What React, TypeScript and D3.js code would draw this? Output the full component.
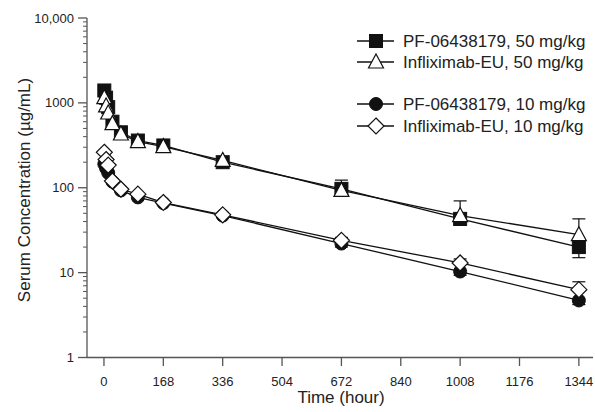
import React, { useEffect, useRef } from 'react';
import * as d3 from 'd3';

// sampling times (hours)
const times = [1, 6, 12, 24, 48, 96, 168, 336, 672, 1008, 1344];

const pf50 = [1400, 1150, 890, 600, 450, 360, 315, 200, 97, 43, 20];
const pf50Sd = [0, 0, 0, 0, 0, 0, 0, 15, 17, 7, 5];
const inf50 = [1150, 920, 760, 570, 430, 350, 305, 210, 93, 47, 28];
const inf50Sd = [0, 0, 0, 0, 0, 0, 0, 12, 30, 23, 15];
const pf10 = [190, 170, 150, 118, 93, 77, 66, 47, 22, 10.3, 4.7];
const pf10Sd = [0, 0, 0, 0, 0, 0, 0, 2, 2, 1, 0.5];
const inf10 = [262, 215, 185, 120, 96, 84, 67, 48, 24, 13, 6.3];
const inf10Sd = [0, 0, 0, 0, 0, 0, 0, 2, 2, 1.5, 1.5];

const xTicks = [0, 168, 336, 504, 672, 840, 1008, 1176, 1344];
const yTicks = [1, 10, 100, 1000, 10000];
const yTickLabels = ['1', '10', '100', '1000', '10,000'];

const legendLabels = [
  'PF-06438179, 50 mg/kg',
  'Infliximab-EU, 50 mg/kg',
  'PF-06438179, 10 mg/kg',
  'Infliximab-EU, 10 mg/kg',
];

const W = 595, H = 412;
const FONT = 'Liberation Sans, Arial, sans-serif';
const AX = '#555';

const App = () => {
  const ref = useRef(null);

  useEffect(() => {
    d3.select(ref.current).selectAll('*').remove();
    draw(ref.current);
  }, []);

  return <svg ref={ref} width={W} height={H}
    style={{ position: 'absolute', left: 0, top: 0, background: '#fff' }} />;
};

const marker = (g, type, cx, cy) => {
  if (type === 'square') {
    g.append('rect').attr('x', cx - 6.5).attr('y', cy - 6.5).attr('width', 13).attr('height', 13)
      .attr('fill', '#111').attr('stroke', '#111');
  } else if (type === 'circle') {
    g.append('circle').attr('cx', cx).attr('cy', cy).attr('r', 6.5).attr('fill', '#111').attr('stroke', '#111');
  } else if (type === 'triangle') {
    g.append('path').attr('d', `M${cx},${cy - 8}L${cx + 7.5},${cy + 6}L${cx - 7.5},${cy + 6}Z`)
      .attr('fill', '#fff').attr('stroke', '#111').attr('stroke-width', 1.2);
  } else {
    g.append('path').attr('d', `M${cx},${cy - 8}L${cx + 8},${cy}L${cx},${cy + 8}L${cx - 8},${cy}Z`)
      .attr('fill', '#fff').attr('stroke', '#111').attr('stroke-width', 1.2);
  }
};

const draw = (node) => {
  const svg = d3.select(node);

  const x = d3.scaleLinear().domain([-48, 1384]).range([87, 593]);
  const y = d3.scaleLog().domain([1, 10000]).range([357.5, 18]);

  // y axis
  svg.append('line').attr('x1', 87).attr('x2', 87).attr('y1', y(10000)).attr('y2', y(1))
    .attr('stroke', AX).attr('stroke-width', 1.3);
  for (let d = 1; d < 10000; d *= 10) {
    for (let m = 2; m <= 9; m++) {
      svg.append('line').attr('x1', 83).attr('x2', 87).attr('y1', y(d * m)).attr('y2', y(d * m))
        .attr('stroke', AX).attr('stroke-width', 1);
    }
  }
  yTicks.forEach((t, i) => {
    svg.append('line').attr('x1', 78).attr('x2', 87).attr('y1', y(t)).attr('y2', y(t))
      .attr('stroke', AX).attr('stroke-width', 1.3);
    svg.append('text').attr('x', 74).attr('y', y(t)).attr('dy', '0.35em')
      .attr('text-anchor', 'end').attr('font-family', FONT).attr('font-size', 13)
      .attr('fill', '#222').text(yTickLabels[i]);
  });

  // x axis
  svg.append('line').attr('x1', 87).attr('x2', 593).attr('y1', 357.5).attr('y2', 357.5)
    .attr('stroke', AX).attr('stroke-width', 1.3);
  xTicks.forEach((t) => {
    svg.append('line').attr('x1', x(t)).attr('x2', x(t)).attr('y1', 357.5).attr('y2', 366)
      .attr('stroke', AX).attr('stroke-width', 1.3);
    svg.append('text').attr('x', x(t)).attr('y', 381).attr('dy', '0.35em')
      .attr('text-anchor', 'middle').attr('font-family', FONT).attr('font-size', 13)
      .attr('fill', '#222').text(t);
  });

  svg.append('text').attr('x', 341).attr('y', 397).attr('dy', '0.35em')
    .attr('text-anchor', 'middle').attr('font-family', FONT).attr('font-size', 17)
    .attr('fill', '#222').text('Time (hour)');
  svg.append('text').attr('transform', 'translate(24,190) rotate(-90)').attr('dy', '0.35em')
    .attr('text-anchor', 'middle').attr('font-family', FONT).attr('font-size', 17)
    .attr('fill', '#222').text('Serum Concentration (µg/mL)');

  // dir: +1 upper error bar only, -1 lower only
  const series = [
    { vals: pf50, sd: pf50Sd, type: 'square', dir: -1 },
    { vals: inf50, sd: inf50Sd, type: 'triangle', dir: 1 },
    { vals: pf10, sd: pf10Sd, type: 'circle', dir: -1 },
    { vals: inf10, sd: inf10Sd, type: 'diamond', dir: 1 },
  ];

  const line = d3.line().x((d) => x(d[0])).y((d) => y(d[1]));

  series.forEach((s) => {
    const pts = times.map((t, i) => [t, s.vals[i]]);
    svg.append('path').datum(pts).attr('d', line).attr('fill', 'none')
      .attr('stroke', '#111').attr('stroke-width', 1.3);
  });

  series.forEach((s) => {
    const g = svg.append('g');
    times.forEach((t, i) => {
      const sd = s.sd[i];
      if (sd > 0) {
        const yc = y(s.vals[i]);
        const ye = y(Math.max(s.vals[i] + s.dir * sd, 1));
        g.append('line').attr('x1', x(t)).attr('x2', x(t)).attr('y1', yc).attr('y2', ye)
          .attr('stroke', '#111').attr('stroke-width', 1.2);
        g.append('line').attr('x1', x(t) - 6.5).attr('x2', x(t) + 6.5).attr('y1', ye).attr('y2', ye)
          .attr('stroke', '#111').attr('stroke-width', 1.2);
      }
    });
    times.forEach((t, i) => marker(g, s.type, x(t), y(s.vals[i])));
  });

  // legend
  const legY = [41, 62, 104, 126];
  series.forEach((s, i) => {
    const g = svg.append('g');
    g.append('line').attr('x1', 357).attr('x2', 394).attr('y1', legY[i]).attr('y2', legY[i])
      .attr('stroke', '#111').attr('stroke-width', 1.3);
    marker(g, s.type, 376, legY[i]);
    g.append('text').attr('x', 403).attr('y', legY[i]).attr('dy', '0.35em')
      .attr('font-family', FONT).attr('font-size', 17).attr('fill', '#222').text(legendLabels[i]);
  });
};

export default App;
